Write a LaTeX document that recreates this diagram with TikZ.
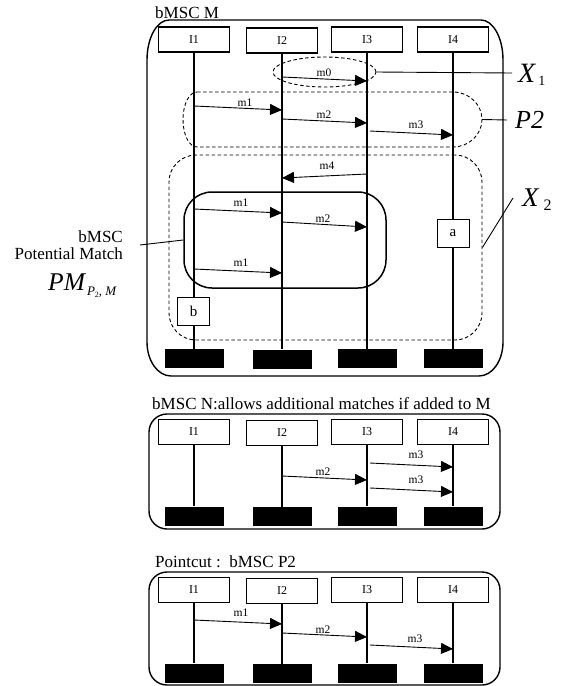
\documentclass[tikz,border=0pt]{standalone}
\usepackage{fontspec}
\setmainfont{Liberation Serif}
\usetikzlibrary{arrows.meta,shapes.geometric,calc}
\begin{document}
\begin{tikzpicture}[x=1pt,y=-1pt,
  inst/.style={draw, line width=1.1pt, minimum width=71pt, minimum height=25pt, inner sep=0pt, font=\fontsize{12}{13}\selectfont},
  stopbox/.style={fill=black, minimum width=59pt, minimum height=19pt, inner sep=0pt},
  life/.style={line width=1.3pt},
  msg/.style={line width=0.9pt, -{Triangle[length=12pt,width=11pt]}},
  mlab/.style={font=\fontsize{11.5}{12}\selectfont, inner sep=0pt},
  frame/.style={line width=1.4pt},
  region/.style={dash pattern=on 3.5pt off 2.5pt, line width=0.9pt},
  title/.style={font=\fontsize{17}{20}\selectfont, anchor=base west, inner sep=0pt},
  smallbox/.style={draw, fill=white, line width=0.9pt, minimum width=32pt, minimum height=28pt, inner sep=0pt, font=\fontsize{15}{16}\selectfont},
  lbl/.style={inner sep=0pt, anchor=base west}
]
\useasboundingbox (0,0) rectangle (569,686);

% ================= bMSC M =================
\node[title] (tM) at (155,18) {bMSC M};
\draw[frame] (169,20) -- (481,20)
  arc[start angle=-90, end angle=0, x radius=22, y radius=40] -- (503,342)
  arc[start angle=0, end angle=90, x radius=24, y radius=34] -- (171,376)
  arc[start angle=90, end angle=180, x radius=24, y radius=34] -- (147,60)
  arc[start angle=180, end angle=270, x radius=22, y radius=40] -- cycle;

\node[inst] (mI1) at (194,39.5) {I1};
\node[inst] (mI2) at (282,40.5) {I2};
\node[inst] (mI3) at (367,39.5) {I3};
\node[inst] (mI4) at (453,39.5) {I4};
\node[stopbox] (mS1) at (194,358.5) {};
\node[stopbox] (mS2) at (282,359) {};
\node[stopbox] (mS3) at (367,358.5) {};
\node[stopbox] (mS4) at (453,358.5) {};
\foreach \i in {1,2,3,4} \draw[life] (mI\i.south) -- (mS\i.north);

% regions
\node[draw, region, ellipse, minimum width=103pt, minimum height=30pt, inner sep=0pt] (x1) at (324.5,72) {};
\draw[region] (197,92) -- (453,92)
  .. controls (469,92) and (482,104.5) .. (482,119.5)
  .. controls (482,134.5) and (469,147) .. (453,147) -- (197,147)
  .. controls (189,147) and (183,134.5) .. (183,119.5)
  .. controls (183,104.5) and (189,92) .. (197,92);
\coordinate (p2e) at (482,119.5);
\node[draw, region, rounded corners=27pt, minimum width=313pt, minimum height=185pt, inner sep=0pt] (x2) at (325.5,247.5) {};
\node[draw, line width=1.5pt, rounded corners=28pt, minimum width=202pt, minimum height=96pt, inner sep=0pt] (pm) at (285,240) {};

% messages
\draw[msg] (mI2 |- 0,77) -- (mI3 |- 0,81);
\node[mlab] (l0) at (324,72.5) {m0};
\draw[msg] (mI1 |- 0,106) -- (mI2 |- 0,110);
\node[mlab] (l1) at (245,102.5) {m1};
\draw[msg] (mI2 |- 0,119) -- (mI3 |- 0,123);
\node[mlab] (l2) at (324,114.5) {m2};
\draw[msg] ($(mI3 |- 0,131)+(3,0)$) -- (mI4 |- 0,135);
\node[mlab] (l3) at (416,124.5) {m3};
\draw[msg] (mI3 |- 0,174) -- (mI2 |- 0,178);
\node[mlab] (l4) at (327,165.5) {m4};
\draw[msg] (mI1 |- 0,209) -- (mI2 |- 0,213);
\node[mlab] (l5) at (241,202.5) {m1};
\draw[msg] (mI2 |- 0,222) -- (mI3 |- 0,227);
\node[mlab] (l6) at (323,218.5) {m2};
\draw[msg] (mI1 |- 0,269) -- (mI2 |- 0,273);
\node[mlab] (l7) at (241,262.5) {m1};

\node[smallbox] (ba) at (453,233) {a};
\node[smallbox] (bb) at (193.5,311) {b};

% labels on the right
\node[lbl] (x1lab) at (518,82) {\fontsize{28}{28}\selectfont\itshape X\hspace{3pt}\raisebox{-3pt}{\upshape\fontsize{14}{14}\selectfont 1}};
\coordinate (x1end) at (512,73);
\draw[line width=0.9pt] (x1.east) -- (x1end);
\node[lbl] (p2lab) at (515,128) {\fontsize{26}{26}\selectfont\itshape P2};
\coordinate (p2end) at (507,120);
\draw[line width=0.9pt] (p2e) -- (p2end);
\node[lbl] (x2lab) at (522,206) {\fontsize{27}{27}\selectfont\itshape X\hspace{5pt}\raisebox{-4pt}{\upshape\fontsize{16}{16}\selectfont 2}};
\coordinate (x2end) at (513,198);
\draw[line width=0.9pt] (x2.east) -- (x2end);

% labels on the left
\node[inner sep=0pt, anchor=base east, font=\fontsize{17}{20}\selectfont] (pmt1) at (123,242) {bMSC};
\node[inner sep=0pt, anchor=base east, font=\fontsize{17}{20}\selectfont] (pmt2) at (123,259) {Potential Match};
\node[lbl] (pmt3) at (48,290) {\fontsize{25.5}{26}\selectfont\itshape PM\hspace{2pt}\raisebox{-5pt}{\fontsize{13}{13}\selectfont P\raisebox{-2pt}{\upshape\fontsize{8}{8}\selectfont 2}, M}};
\coordinate (pmend) at (140,245);
\draw[line width=0.9pt] (pm.west) -- (pmend);

% ================= bMSC N =================
\node[title] (tN) at (152,409) {bMSC N:allows additional matches if added to M};
\draw[frame, rounded corners=18pt] (149,414) rectangle (500,529);
\node[inst] (nI1) at (194,432) {I1};
\node[inst] (nI2) at (282,433) {I2};
\node[inst] (nI3) at (367,432) {I3};
\node[inst] (nI4) at (453,432) {I4};
\node[stopbox] (nS1) at (194,516) {};
\node[stopbox] (nS2) at (282,516.5) {};
\node[stopbox] (nS3) at (367,516) {};
\node[stopbox] (nS4) at (453,516) {};
\foreach \i in {1,2,3,4} \draw[life] (nI\i.south) -- (nS\i.north);
\draw[msg] ($(nI3 |- 0,463)+(3,0)$) -- (nI4 |- 0,467);
\node[mlab] (n1) at (416,454.5) {m3};
\draw[msg] (nI2 |- 0,476) -- (nI3 |- 0,480);
\node[mlab] (n2) at (323,471.5) {m2};
\draw[msg] ($(nI3 |- 0,488)+(3,0)$) -- (nI4 |- 0,492);
\node[mlab] (n3) at (416,479.5) {m3};

% ================= Pointcut P2 =================
\node[title] (tP) at (155,567) {Pointcut :\ \ bMSC P2};
\draw[frame, rounded corners=18pt] (149,572) rectangle (500,685);
\node[inst] (pI1) at (194,590) {I1};
\node[inst] (pI2) at (282,591) {I2};
\node[inst] (pI3) at (367,590) {I3};
\node[inst] (pI4) at (453,590) {I4};
\node[stopbox] (pS1) at (194,673) {};
\node[stopbox] (pS2) at (282,673.5) {};
\node[stopbox] (pS3) at (367,673) {};
\node[stopbox] (pS4) at (453,673) {};
\foreach \i in {1,2,3,4} \draw[life] (pI\i.south) -- (pS\i.north);
\draw[msg] (pI1 |- 0,620) -- (pI2 |- 0,624);
\node[mlab] (p1) at (241,612.5) {m1};
\draw[msg] (pI2 |- 0,633) -- (pI3 |- 0,637);
\node[mlab] (p2) at (323,629.5) {m2};
\draw[msg] ($(pI3 |- 0,645)+(3,0)$) -- (pI4 |- 0,649);
\node[mlab] (p3) at (415,638.5) {m3};
\end{tikzpicture}
\end{document}
